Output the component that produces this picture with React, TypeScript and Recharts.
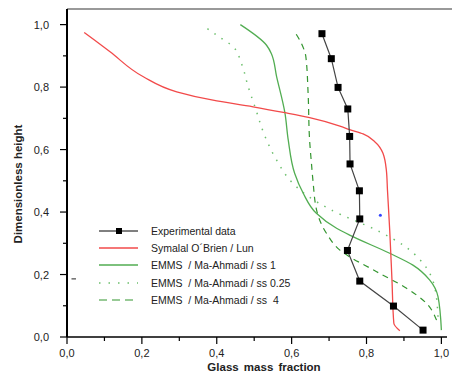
import React from "react";
import {
  LineChart,
  Line,
  XAxis,
  YAxis,
  ReferenceLine,
  ReferenceDot,
} from "recharts";

// x = glass mass fraction, y = dimensionless height
const experimental = [
  { x: 0.681, y: 0.971 },
  { x: 0.706, y: 0.891 },
  { x: 0.724, y: 0.799 },
  { x: 0.75, y: 0.73 },
  { x: 0.755, y: 0.642 },
  { x: 0.756, y: 0.554 },
  { x: 0.781, y: 0.468 },
  { x: 0.782, y: 0.378 },
  { x: 0.749, y: 0.277 },
  { x: 0.782, y: 0.179 },
  { x: 0.872, y: 0.099 },
  { x: 0.951, y: 0.022 },
];

const symalal = [
  { x: 0.889, y: 0.02 },
  { x: 0.873, y: 0.044 },
  { x: 0.868, y: 0.182 },
  { x: 0.862, y: 0.342 },
  { x: 0.856, y: 0.47 },
  { x: 0.853, y: 0.534 },
  { x: 0.844, y: 0.588 },
  { x: 0.822, y: 0.625 },
  { x: 0.791, y: 0.65 },
  { x: 0.755, y: 0.664 },
  { x: 0.729, y: 0.675 },
  { x: 0.648, y: 0.702 },
  { x: 0.582, y: 0.718 },
  { x: 0.497, y: 0.737 },
  { x: 0.39, y: 0.758 },
  { x: 0.293, y: 0.785 },
  { x: 0.204, y: 0.833 },
  { x: 0.115, y: 0.913 },
  { x: 0.046, y: 0.975 },
];

const emmsSs1 = [
  { x: 1.0, y: 0.022 },
  { x: 0.991, y: 0.129 },
  { x: 0.969, y: 0.182 },
  { x: 0.924, y: 0.23 },
  { x: 0.862, y: 0.268 },
  { x: 0.755, y: 0.326 },
  { x: 0.72, y: 0.348 },
  { x: 0.666, y: 0.396 },
  { x: 0.631, y: 0.46 },
  { x: 0.608, y: 0.524 },
  { x: 0.591, y: 0.63 },
  { x: 0.582, y: 0.718 },
  { x: 0.56, y: 0.833 },
  { x: 0.546, y: 0.907 },
  { x: 0.533, y: 0.934 },
  { x: 0.463, y: 1.0 },
];

const emmsSs025 = [
  { x: 0.991, y: 0.065 },
  { x: 0.982, y: 0.161 },
  { x: 0.951, y: 0.236 },
  { x: 0.898, y: 0.294 },
  { x: 0.835, y: 0.337 },
  { x: 0.702, y: 0.409 },
  { x: 0.64, y: 0.454 },
  { x: 0.604, y: 0.491 },
  { x: 0.56, y: 0.566 },
  { x: 0.531, y: 0.636 },
  { x: 0.502, y: 0.737 },
  { x: 0.484, y: 0.801 },
  { x: 0.466, y: 0.875 },
  { x: 0.444, y: 0.929 },
  { x: 0.404, y: 0.963 },
  { x: 0.364, y: 0.996 },
];

const emmsSs4 = [
  { x: 0.987, y: 0.054 },
  { x: 0.96, y: 0.108 },
  { x: 0.907, y: 0.156 },
  { x: 0.827, y: 0.209 },
  { x: 0.729, y: 0.278 },
  { x: 0.693, y: 0.332 },
  { x: 0.668, y: 0.4 },
  { x: 0.657, y: 0.5 },
  { x: 0.653, y: 0.555 },
  { x: 0.648, y: 0.63 },
  { x: 0.644, y: 0.78 },
  { x: 0.638, y: 0.897 },
  { x: 0.626, y: 0.94 },
  { x: 0.608, y: 0.977 },
];

// stray marks in the scanned figure
const blueDot = { x: 0.837, y: 0.39 };
const strayDash = [
  { x: 0.012, y: 0.186 },
  { x: 0.024, y: 0.186 },
];

const ticks = [0, 0.1, 0.2, 0.3, 0.4, 0.5, 0.6, 0.7, 0.8, 0.9, 1.0];

const FONT = "'Liberation Sans', Arial, sans-serif";
const RED = "#f24a4a";
const GREEN = "#52ad52";
const GREEN_DOT = "#6cbf6c";
const GREEN_DASH = "#33952f";

const legendItems = [
  { name: "Experimental data", kind: "exp" },
  { name: "Symalal O´Brien / Lun", kind: "red" },
  { name: "EMMS  / Ma-Ahmadi / ss 1", kind: "ss1" },
  { name: "EMMS  / Ma-Ahmadi / ss 0.25", kind: "ss025" },
  { name: "EMMS  / Ma-Ahmadi / ss  4", kind: "ss4" },
];

const fmt = (v: number) => v.toFixed(1).replace(".", ",");
const isMajor = (v: number) => Math.round(v * 10) % 2 === 0;

const XTick = (props: any) => {
  const { x, y, payload } = props;
  const major = isMajor(payload.value);
  return (
    <g>
      <line x1={x} y1={y} x2={x} y2={y + (major ? 7 : 4)} stroke="#000" strokeWidth={1.2} />
      {major && (
        <text x={x} y={y + 20} textAnchor="middle" fontSize={11} fontFamily={FONT} fill="#222">
          {fmt(payload.value)}
        </text>
      )}
    </g>
  );
};

const YTick = (props: any) => {
  const { x, y, payload } = props;
  const major = isMajor(payload.value);
  return (
    <g>
      <line x1={x - (major ? 7 : 4)} y1={y} x2={x} y2={y} stroke="#000" strokeWidth={1.2} />
      {major && (
        <text x={x - 18} y={y + 4} textAnchor="end" fontSize={11} fontFamily={FONT} fill="#222">
          {fmt(payload.value)}
        </text>
      )}
    </g>
  );
};

const SquareDot = (props: any) => {
  const { cx, cy } = props;
  if (cx == null || cy == null) return null;
  return <rect x={cx - 3.5} y={cy - 3.5} width={7} height={7} fill="#000" />;
};

function ChartLegend() {
  return (
    <div
      style={{
        position: "absolute",
        left: 99,
        top: 222,
        fontFamily: FONT,
        fontSize: 10.5,
        color: "#222",
        pointerEvents: "none",
      }}
    >
      {legendItems.map((item) => (
        <div key={item.name} style={{ display: "flex", alignItems: "center", height: 17.4 }}>
          <svg width={40} height={10} style={{ display: "block" }}>
            {item.kind === "exp" && (
              <>
                <line x1={0} y1={5} x2={39} y2={5} stroke="#000" strokeWidth={1} />
                <rect x={17} y={2} width={6} height={6} fill="#000" />
              </>
            )}
            {item.kind === "red" && <line x1={0} y1={5} x2={39} y2={5} stroke={RED} strokeWidth={1.5} />}
            {item.kind === "ss1" && <line x1={0} y1={5} x2={39} y2={5} stroke={GREEN} strokeWidth={1.5} />}
            {item.kind === "ss025" && (
              <line x1={0} y1={5} x2={39} y2={5} stroke={GREEN_DOT} strokeWidth={1.5} strokeDasharray="1.5 8" />
            )}
            {item.kind === "ss4" && (
              <line x1={0} y1={5} x2={39} y2={5} stroke={GREEN_DASH} strokeWidth={1.2} strokeDasharray="8 5" />
            )}
          </svg>
          <span style={{ marginLeft: 12, whiteSpace: "pre" }}>{item.name}</span>
        </div>
      ))}
    </div>
  );
}

export default function App() {
  return (
    <div style={{ position: "absolute", left: 0, top: 0, width: 452, height: 375, background: "#fff" }}>
      <LineChart width={452} height={375} margin={{ top: 9, right: 5, bottom: 0, left: 0 }}>
        <XAxis
          type="number"
          dataKey="x"
          domain={[0, 1.015]}
          ticks={ticks}
          interval={0}
          tickSize={0}
          tickMargin={0}
          tick={<XTick />}
          height={38}
          axisLine={{ stroke: "#000", strokeWidth: 1.5 }}
          tickLine={false}
          allowDataOverflow
          label={{
            content: () => (
              <text x={264} y={371} textAnchor="middle" fontSize={11.5} fontWeight="bold" fontFamily={FONT} fill="#222" wordSpacing={2}>
                Glass mass fraction
              </text>
            ),
          }}
        />
        <YAxis
          type="number"
          dataKey="y"
          domain={[0, 1.05]}
          ticks={ticks}
          interval={0}
          tickSize={0}
          tickMargin={0}
          tick={<YTick />}
          width={67}
          axisLine={{ stroke: "#000", strokeWidth: 2 }}
          tickLine={false}
          allowDataOverflow
          label={{
            content: () => (
              <text
                x={22}
                y={184}
                transform="rotate(-90 22 184)"
                textAnchor="middle"
                fontSize={11.5}
                fontWeight="bold"
                fontFamily={FONT}
                fill="#222"
              >
                Dimensionless height
              </text>
            ),
          }}
        />
        <ReferenceLine
          segment={[
            { x: 0, y: 1.05 },
            { x: 1.03, y: 1.05 },
          ]}
          stroke="#777"
          strokeWidth={1.5}
          ifOverflow="visible"
        />
        <ReferenceLine segment={strayDash} stroke="#222" strokeWidth={1} />
        <ReferenceDot x={blueDot.x} y={blueDot.y} r={1.5} fill="#3344ff" stroke="none" />
        <Line
          data={emmsSs025}
          dataKey="y"
          type="monotoneY"
          stroke={GREEN_DOT}
          strokeWidth={1.5}
          strokeDasharray="1.5 7"
          dot={false}
          isAnimationActive={false}
        />
        <Line
          data={emmsSs4}
          dataKey="y"
          type="monotoneY"
          stroke={GREEN_DASH}
          strokeWidth={1.2}
          strokeDasharray="6 5"
          dot={false}
          isAnimationActive={false}
        />
        <Line
          data={emmsSs1}
          dataKey="y"
          type="monotoneY"
          stroke={GREEN}
          strokeWidth={1.3}
          dot={false}
          isAnimationActive={false}
        />
        <Line
          data={symalal}
          dataKey="y"
          type="monotoneY"
          stroke={RED}
          strokeWidth={1.3}
          dot={false}
          isAnimationActive={false}
        />
        <Line
          data={experimental}
          dataKey="y"
          type="linear"
          stroke="#444"
          strokeWidth={1.2}
          dot={<SquareDot />}
          isAnimationActive={false}
        />
      </LineChart>
      <ChartLegend />
    </div>
  );
}
